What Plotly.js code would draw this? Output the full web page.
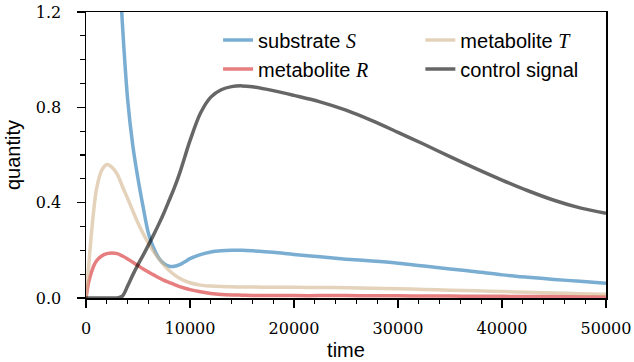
<!DOCTYPE html>
<html><head><meta charset="utf-8">
<script src="https://cdn.plot.ly/plotly-3.0.1.min.js"></script>
<style>html,body{margin:0;padding:0;background:#fff}</style>
</head><body><div id="chart" style="width:634px;height:362px"></div>
<script>
const time = [0, 250, 500, 750, 1000, 1500, 2000, 2500, 3000, 3500, 4000, 4500, 5000, 5500, 6000, 6500, 7000, 7500, 8000, 8500, 9000, 9500, 10000, 11000, 12000, 13000, 14000, 15000, 16000, 18000, 20000, 22500, 25000, 27500, 30000, 32500, 35000, 37500, 40000, 42500, 45000, 47500, 50000];

const substrateS = [null, null, null, null, null, null, 2.95, 2.15, 1.56, 1.15, 0.835, 0.64, 0.5, 0.38, 0.272, 0.21, 0.168, 0.144, 0.133, 0.133, 0.14, 0.152, 0.165, 0.182, 0.193, 0.198, 0.2, 0.2, 0.198, 0.192, 0.183, 0.173, 0.163, 0.155, 0.146, 0.134, 0.122, 0.11, 0.097, 0.087, 0.078, 0.07, 0.062];

const metaboliteR = [0, 0.065, 0.105, 0.135, 0.155, 0.176, 0.186, 0.189, 0.186, 0.176, 0.164, 0.15, 0.136, 0.122, 0.109, 0.097, 0.085, 0.074, 0.065, 0.056, 0.048, 0.041, 0.035, 0.026, 0.019, 0.015, 0.013, 0.012, 0.011, 0.011, 0.01, 0.01, 0.01, 0.009, 0.009, 0.008, 0.008, 0.007, 0.007, 0.006, 0.006, 0.005, 0.005];

const metaboliteT = [0, 0.13, 0.26, 0.37, 0.455, 0.535, 0.56, 0.548, 0.52, 0.468, 0.418, 0.365, 0.315, 0.27, 0.23, 0.195, 0.165, 0.138, 0.115, 0.097, 0.083, 0.072, 0.064, 0.054, 0.05, 0.048, 0.047, 0.046, 0.046, 0.045, 0.045, 0.044, 0.043, 0.041, 0.039, 0.036, 0.033, 0.03, 0.027, 0.024, 0.021, 0.018, 0.016];

const controlSignal = [0, 0, 0, 0, 0, 0, 0, 0, 0, 0.008, 0.05, 0.097, 0.14, 0.18, 0.222, 0.265, 0.31, 0.358, 0.41, 0.463, 0.523, 0.592, 0.66, 0.775, 0.843, 0.874, 0.887, 0.89, 0.886, 0.87, 0.85, 0.823, 0.788, 0.744, 0.695, 0.645, 0.593, 0.543, 0.495, 0.45, 0.41, 0.378, 0.355];

const seriesNames = ["substrate <i><span style=\"font-family:'Liberation Serif'\">S</span></i>",
                     "metabolite <i><span style=\"font-family:'Liberation Serif'\">R</span></i>",
                     "metabolite <i><span style=\"font-family:'Liberation Serif'\">T</span></i>",
                     "control signal"];
const xTickVals = [0, 10000, 20000, 30000, 40000, 50000];
const xTickText = ['0', '10000', '20000', '30000', '40000', '50000'];
const yTickVals = [0, 0.4, 0.8, 1.2];
const yTickText = ['0.0', '0.4', '0.8', '1.2'];

const colors = ['rgba(31,119,180,0.6)', 'rgba(214,39,40,0.6)', 'rgba(210,180,140,0.6)', 'rgba(0,0,0,0.6)'];
const legendIds = ['legend', 'legend', 'legend2', 'legend2'];
const ys = [substrateS, metaboliteR, metaboliteT, controlSignal];

const traces = ys.map((y, i) => ({
  x: time, y: y, name: seriesNames[i], type: 'scatter', mode: 'lines',
  line: {color: colors[i], width: 3.5, shape: 'spline', smoothing: 0.9},
  legend: legendIds[i], connectgaps: false
}));

const tickFont = {family: 'DejaVu Serif', size: 16, color: '#000'};
const titleFont = {family: 'Liberation Sans, Arial, sans-serif', size: 20, color: '#000'};
const legendFont = {family: 'Liberation Sans, Arial, sans-serif', size: 20, color: '#000'};

const layout = {
  width: 634, height: 362,
  margin: {l: 86, r: 28, t: 12, b: 64, autoexpand: false},
  paper_bgcolor: '#fff', plot_bgcolor: '#fff',
  showlegend: true,
  xaxis: {
    range: [0, 50000], tickmode: 'array', tickvals: xTickVals, ticktext: xTickText,
    ticks: 'outside', ticklen: 8, tickwidth: 1.5, tickcolor: '#000', automargin: false,
    showline: true, linecolor: '#000', linewidth: 1.5, mirror: true,
    showgrid: false, zeroline: false, tickfont: tickFont, ticklabelstandoff: 7,
    minor: {dtick: 2000, tick0: 0, ticks: 'outside', ticklen: 4.5, tickwidth: 1.2, tickcolor: '#000', showgrid: false},
    title: {text: 'time', font: titleFont, standoff: 6}
  },
  yaxis: {
    range: [0, 1.2], tickmode: 'array', tickvals: yTickVals, ticktext: yTickText,
    ticks: 'outside', ticklen: 8, tickwidth: 1.5, tickcolor: '#000', automargin: false,
    showline: true, linecolor: '#000', linewidth: 1.5, mirror: true,
    showgrid: false, zeroline: false, tickfont: tickFont, ticklabelstandoff: 12,
    minor: {dtick: 0.1, tick0: 0, ticks: 'outside', ticklen: 4.5, tickwidth: 1.2, tickcolor: '#000', showgrid: false},
    title: {text: 'quantity', font: titleFont, standoff: 10}
  },
  legend: {
    orientation: 'v', x: 0.254, xanchor: 'left', y: 0.97, yanchor: 'top',
    bgcolor: 'rgba(0,0,0,0)', font: legendFont, traceorder: 'normal', tracegroupgap: 0
  },
  legend2: {
    orientation: 'v', x: 0.643, xanchor: 'left', y: 0.97, yanchor: 'top',
    bgcolor: 'rgba(0,0,0,0)', font: legendFont, traceorder: 'normal', tracegroupgap: 0
  }
};

Plotly.newPlot('chart', traces, layout, {staticPlot: true, displayModeBar: false});
</script></body></html>
